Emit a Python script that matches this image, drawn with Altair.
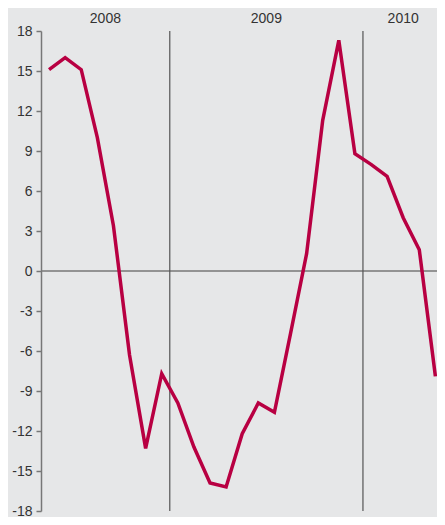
import altair as alt
import pandas as pd

# Monthly values, May 2008 - May 2010
values = [15.1, 16.0, 15.1, 10.0, 3.4, -6.3, -13.3, -7.7,
          -9.9, -13.2, -15.9, -16.2, -12.2, -9.9, -10.6, -4.7, 1.3, 11.3, 17.3, 8.8,
          8.0, 7.1, 4.0, 1.6, -7.9]
years = ["2008", "2009", "2010"]
year_centers = [4.0, 14.0, 22.5]
year_boundaries = [8, 20]
y_ticks = [-18, -15, -12, -9, -6, -3, 0, 3, 6, 9, 12, 15, 18]

df = pd.DataFrame({"m": [i + 0.5 for i in range(len(values))], "v": values})
ydf = pd.DataFrame({"m": year_centers, "label": years})
bdf = pd.DataFrame({"m": year_boundaries})
zdf = pd.DataFrame({"v": [0]})

xs = alt.Scale(domain=[0, 24.6], nice=False, zero=False)
ys = alt.Scale(domain=[-18, 18], nice=False, zero=False)

y_axis = alt.Axis(values=y_ticks, grid=False, tickSize=5, tickWidth=1.5,
                  tickColor="#777777", domainColor="#777777", domainWidth=1.5,
                  labelFont="Liberation Sans", labelFontSize=14,
                  labelColor="#333333", labelPadding=4,
                  labelExpr="'' + datum.value", title=None)

zero = alt.Chart(zdf).mark_rule(color="#777777", strokeWidth=1.5).encode(
    y=alt.Y("v:Q", scale=ys, axis=y_axis))

bounds = alt.Chart(bdf).mark_rule(color="#555555", strokeWidth=1.2).encode(
    x=alt.X("m:Q", scale=xs, axis=None))

line = alt.Chart(df).mark_line(color="#b80042", strokeWidth=3.5, strokeJoin="miter").encode(
    x=alt.X("m:Q", scale=xs, axis=None),
    y=alt.Y("v:Q", scale=ys, axis=y_axis))

labels = alt.Chart(ydf).mark_text(font="Liberation Sans", fontSize=14, color="#333333",
                                  baseline="middle").encode(
    x=alt.X("m:Q", scale=xs, axis=None),
    y=alt.value(-12),
    text="label:N")

chart = alt.layer(zero, bounds, line, labels).properties(
    width=396, height=480,
    autosize=alt.AutoSizeParams(type="none"),
    padding={"left": 33, "top": 23, "right": 0, "bottom": 6},
    background="#e6e7e8",
).configure_view(stroke=None)

chart.save("out.html", embed_options={"renderer": "svg", "actions": False})
